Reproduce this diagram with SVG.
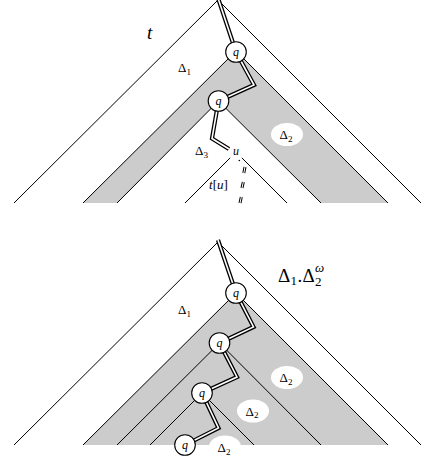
<svg xmlns="http://www.w3.org/2000/svg" width="422" height="456" viewBox="0 0 422 456">
<defs>
<style>
.edge{fill:none;stroke:#000;stroke-width:1}
.gray{fill:#cccccc;stroke:none}
.wtri{fill:#fff;stroke:none}
.dbo{fill:none;stroke:#000;stroke-width:4.2;stroke-linejoin:miter;stroke-miterlimit:10}
.dbi{fill:none;stroke:#fff;stroke-width:1.6;stroke-linejoin:miter;stroke-miterlimit:10}
.dso{fill:none;stroke:#000;stroke-width:3}
.dsi{fill:none;stroke:#fff;stroke-width:1}
.node circle{fill:#fff;stroke:#000;stroke-width:1.1}
.q{font-family:"Liberation Serif",serif;font-style:italic;font-size:12px;text-anchor:middle}
.lbl{font-family:"Liberation Serif",serif;font-size:13px}
.sub{font-size:9px}
.it{font-style:italic}
.blob{fill:#fff;stroke:none}
.big{font-family:"Liberation Serif",serif;font-size:19px}
.bigs{font-family:"Liberation Serif",serif;font-size:13px}
</style>
</defs>
<rect width="422" height="456" fill="#fff"/>

<!-- top figure -->
<g id="top-regions">
<polygon class="gray" points="236,51 83,203 388,203"/>
<polygon class="wtri" points="218.5,101 117,203 321,203"/>
<polyline class="edge" points="14,203 218,0 421,203"/>
<polyline class="edge" points="83,203 236,51 388,203"/>
<polyline class="edge" points="117,203 218.5,101 321,203"/>
<polyline class="edge" points="185,203 236,152 287,203"/>
<ellipse class="blob" cx="287" cy="134.5" rx="16" ry="11.5"/>
</g>
<g id="node-u">
<circle cx="236" cy="152" r="8" fill="#fff"/>
<text class="q" x="236" y="155">u</text>
</g>

<!-- bottom figure -->
<g id="bottom-regions">
<polygon class="gray" points="236,293 83,445 388,445"/>
<polyline class="edge" points="14,445 218,242 421,445"/>
<polyline class="edge" points="83,445 236,293 388,445"/>
<polyline class="edge" points="117,445 219.5,343 321,445"/>
<polyline class="edge" points="150,445 202,393 254,445"/>
<ellipse class="blob" cx="287" cy="377.5" rx="16" ry="11.5"/>
<ellipse class="blob" cx="253" cy="411" rx="16" ry="11.5"/>
<ellipse class="blob" cx="225" cy="447" rx="16" ry="11.5"/>
</g>

<g id="connectors">
<path class="dbo" d="M218,-2 L236,52"/>
<path class="dbi" d="M218,-2 L236,52"/>
<path class="dbo" d="M236,52 L254,85 L218.5,101"/>
<path class="dbi" d="M236,52 L254,85 L218.5,101"/>
<path class="dbo" d="M218.5,101 L212,138.5 L229,149"/>
<path class="dbi" d="M218.5,101 L212,138.5 L229,149"/>
<circle cx="239.3" cy="160.5" r="0.8" fill="#000"/>
<path class="dso" d="M245,167 L243.8,173"/>
<path class="dsi" d="M245,167 L243.8,173"/>
<path class="dso" d="M243.3,182 L242,188"/>
<path class="dsi" d="M243.3,182 L242,188"/>
<path class="dso" d="M241.3,197 L240,203"/>
<path class="dsi" d="M241.3,197 L240,203"/>

<path class="dbo" d="M218,240 L236,293"/>
<path class="dbi" d="M218,240 L236,293"/>
<path class="dbo" d="M236,293 L253.5,327 L219.5,343"/>
<path class="dbi" d="M236,293 L253.5,327 L219.5,343"/>
<path class="dbo" d="M219.5,343 L237,377 L202,393"/>
<path class="dbi" d="M219.5,343 L237,377 L202,393"/>
<path class="dbo" d="M202,393 L218.5,428 L185,445"/>
<path class="dbi" d="M202,393 L218.5,428 L185,445"/>
</g>

<g id="node-q1-top" class="node"><circle cx="236" cy="52" r="10.3"/><text class="q" x="236" y="55.5">q</text></g>
<g id="node-q2-top" class="node"><circle cx="218.5" cy="101" r="10.3"/><text class="q" x="218.5" y="104.5">q</text></g>
<g id="node-q1-bot" class="node"><circle cx="236" cy="293" r="10.3"/><text class="q" x="236" y="296.5">q</text></g>
<g id="node-q2-bot" class="node"><circle cx="219.5" cy="343" r="10.3"/><text class="q" x="219.5" y="346.5">q</text></g>
<g id="node-q3-bot" class="node"><circle cx="202" cy="393" r="10.3"/><text class="q" x="202" y="396.5">q</text></g>
<g id="node-q4-bot" class="node"><circle cx="185" cy="445" r="10.3"/><text class="q" x="185" y="448.5">q</text></g>

<g id="labels">
<text x="147" y="39" font-family="Liberation Serif, serif" font-style="italic" font-size="19">t</text>
<text class="lbl" x="178" y="72">Δ<tspan class="sub" dy="2.5">1</tspan></text>
<text class="lbl" x="195" y="155">Δ<tspan class="sub" dy="2.5">3</tspan></text>
<text class="lbl" x="279.5" y="139">Δ<tspan class="sub" dy="2.5">2</tspan></text>
<text class="lbl" x="209" y="189"><tspan class="it">t</tspan>[<tspan class="it">u</tspan>]</text>

<text class="lbl" x="178" y="314">Δ<tspan class="sub" dy="2.5">1</tspan></text>
<text class="lbl" x="279.5" y="382">Δ<tspan class="sub" dy="2.5">2</tspan></text>
<text class="lbl" x="245.5" y="415.5">Δ<tspan class="sub" dy="2.5">2</tspan></text>
<text class="lbl" x="217.5" y="452">Δ<tspan class="sub" dy="2.5">2</tspan></text>

<text class="big" x="278" y="282">Δ</text>
<text class="bigs" x="290.5" y="285">1</text>
<text class="big" x="297.5" y="282">.</text>
<text class="big" x="302.5" y="282">Δ</text>
<text class="bigs" x="315" y="285.5">2</text>
<text class="bigs it" x="315" y="271.5">ω</text>
</g>
</svg>
